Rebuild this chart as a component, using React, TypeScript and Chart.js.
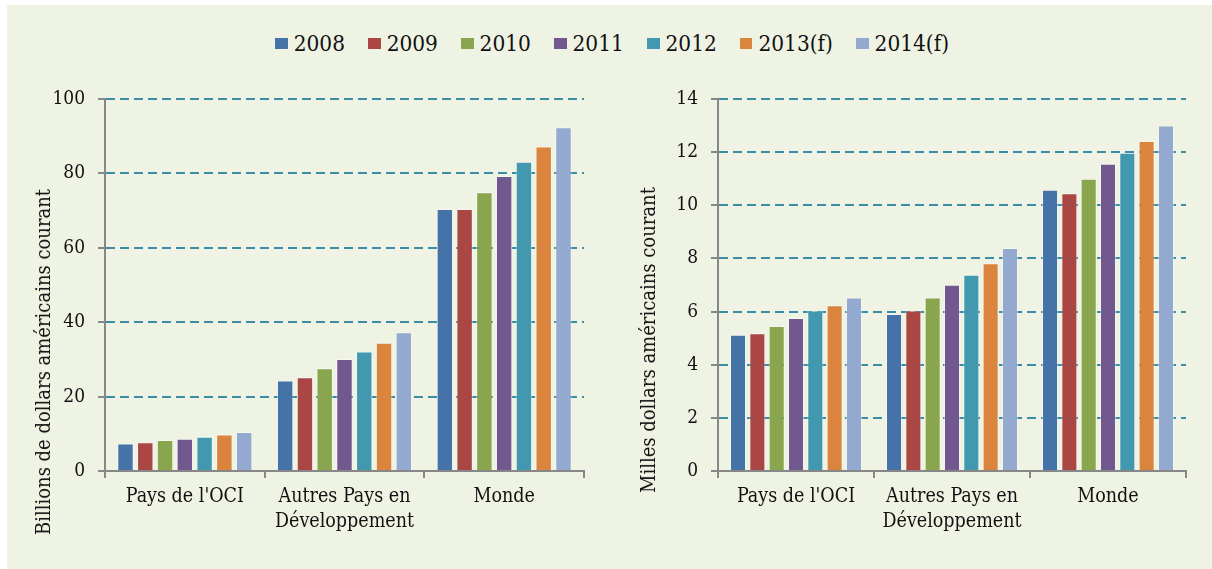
import React, { useEffect, useRef } from 'react';
import { Chart, registerables } from 'chart.js';

Chart.register(...registerables);

// ---- data ----
const categories: string[][] = [["Pays de l'OCI"], ['Autres Pays en', 'Développement'], ['Monde']];
const seriesLabels = ['2008', '2009', '2010', '2011', '2012', '2013(f)', '2014(f)'];
const seriesColors = ['#4572A7', '#AA4643', '#89A54E', '#71588F', '#4198AF', '#DB843D', '#93A9CF'];

// Left chart: billions of current US dollars
const total2008 = [7.4, 24.3, 70.4];
const total2009 = [7.7, 25.2, 70.4];
const total2010 = [8.3, 27.6, 74.9];
const total2011 = [8.7, 30.1, 79.3];
const total2012 = [9.2, 32.1, 83.1];
const total2013 = [9.8, 34.5, 87.2];
const total2014 = [10.5, 37.3, 92.4];

// Right chart: thousands of current US dollars
const perCap2008 = [5.13, 5.91, 10.58];
const perCap2009 = [5.18, 6.04, 10.45];
const perCap2010 = [5.46, 6.53, 11.0];
const perCap2011 = [5.76, 7.01, 11.56];
const perCap2012 = [6.04, 7.39, 11.98];
const perCap2013 = [6.24, 7.82, 12.42];
const perCap2014 = [6.53, 8.39, 13.0];

const leftTitle = 'Billions de dollars américains courant';
const rightTitle = 'Milles dollars américains courant';
const leftTicks = { min: 0, max: 100, step: 20 };
const rightTicks = { min: 0, max: 14, step: 2 };

const FONT = "'DejaVu Serif Condensed', 'Liberation Serif', serif";
const GRID_TEAL = '#3B8CA6';
const AXIS_GRAY = '#878787';

type PanelProps = {
  series: number[][];
  range: { min: number; max: number; step: number };
  yWidth: number;
  padRight: number;
  left: number;
};

function BarPanel({ series, range, yWidth, padRight, left }: PanelProps) {
  const ref = useRef<HTMLCanvasElement | null>(null);
  useEffect(() => {
    if (!ref.current) return;
    const chart = new Chart(ref.current, {
      type: 'bar',
      data: {
        labels: categories as any,
        datasets: series.map((d, i) => ({
          label: seriesLabels[i],
          data: d,
          backgroundColor: seriesColors[i],
          borderColor: 'rgba(255,255,255,0.45)',
          borderWidth: 1,
          borderSkipped: 'bottom',
          categoryPercentage: 0.867,
          barPercentage: 0.83,
        })),
      },
      options: {
        animation: false,
        responsive: false,
        maintainAspectRatio: false,
        devicePixelRatio: 1,
        layout: { padding: { top: 99, right: padRight, left: 0, bottom: 0 } },
        plugins: { legend: { display: false }, tooltip: { enabled: false } },
        scales: {
          x: {
            afterFit: (s: any) => { s.height = 98; },
            grid: {
              display: true,
              offset: true,
              drawOnChartArea: false,
              drawTicks: true,
              tickLength: 7,
              color: AXIS_GRAY,
              lineWidth: 2,
            },
            border: { display: true, color: AXIS_GRAY, width: 2 },
            ticks: {
              color: '#111',
              font: { family: FONT, size: 19.5, lineHeight: 1.28 },
              padding: 6,
              maxRotation: 0,
              autoSkip: false,
            },
          },
          y: {
            min: range.min,
            max: range.max,
            afterFit: (s: any) => { s.width = yWidth; },
            grid: {
              display: true,
              drawTicks: true,
              tickLength: 7,
              lineWidth: 2,
              color: (ctx: any) => (ctx.tick && ctx.tick.value === 0 ? 'rgba(0,0,0,0)' : GRID_TEAL),
              tickColor: AXIS_GRAY,
            },
            border: { display: true, color: AXIS_GRAY, width: 2, dash: [9, 5] },
            ticks: {
              stepSize: range.step,
              color: '#111',
              font: { family: FONT, size: 19 },
              padding: 13,
            },
          },
        },
      },
    });
    return () => chart.destroy();
  }, []);
  return (
    <canvas
      ref={ref}
      width={606}
      height={569}
      style={{ position: 'absolute', left, top: 0, width: 606, height: 569 }}
    />
  );
}

function RotTitle({ text, cx, cy }: { text: string; cx: number; cy: number }) {
  return (
    <div
      style={{
        position: 'absolute',
        left: cx,
        top: cy,
        transform: 'translate(-50%, -50%) rotate(-90deg)',
        whiteSpace: 'nowrap',
        fontFamily: FONT,
        fontSize: 20,
        color: '#111',
        lineHeight: 1,
      }}
    >
      {text}
    </div>
  );
}

export default function App() {
  return (
    <div style={{ position: 'fixed', left: 0, top: 0, width: 1212, height: 569, background: '#ffffff', overflow: 'hidden' }}>
      <div style={{ position: 'absolute', left: 7, top: 5, right: 0, bottom: 0, background: '#EFF3E4' }} />
      <div
        style={{
          position: 'absolute',
          left: 275,
          top: 30,
          display: 'flex',
          alignItems: 'center',
          fontFamily: FONT,
          fontSize: 22.4,
          color: '#111',
          whiteSpace: 'nowrap',
          lineHeight: '27px',
        }}
      >
        {seriesLabels.map((l, i) => (
          <div key={l} style={{ display: 'flex', alignItems: 'center', marginRight: 23 }}>
            <span style={{ display: 'inline-block', width: 12.7, height: 11.7, background: seriesColors[i], marginRight: 6 }} />
            <span>{l}</span>
          </div>
        ))}
      </div>
      <BarPanel
        series={[total2008, total2009, total2010, total2011, total2012, total2013, total2014]}
        range={leftTicks}
        yWidth={105}
        padRight={22}
        left={0}
      />
      <BarPanel
        series={[perCap2008, perCap2009, perCap2010, perCap2011, perCap2012, perCap2013, perCap2014]}
        range={rightTicks}
        yWidth={112}
        padRight={26}
        left={606}
      />
      <RotTitle text={leftTitle} cx={43} cy={362} />
      <RotTitle text={rightTitle} cx={648} cy={340} />
    </div>
  );
}
